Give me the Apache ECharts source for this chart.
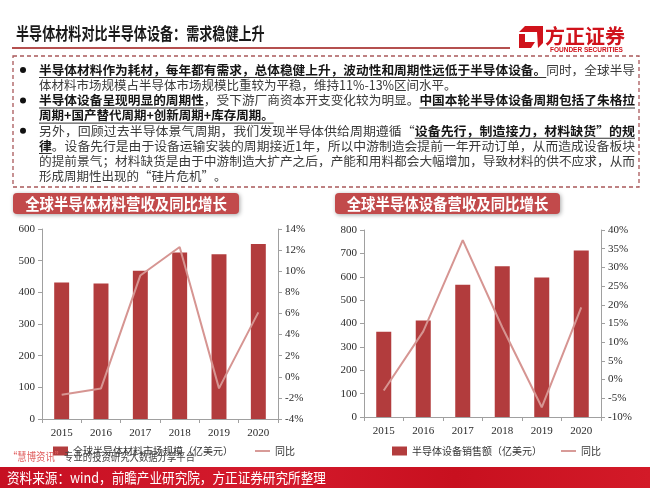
<!DOCTYPE html>
<html><head><meta charset="utf-8">
<script src="https://cdn.jsdelivr.net/npm/echarts@6/dist/echarts.min.js"></script>
<style>html,body{margin:0;padding:0;background:#fff}#c{width:650px;height:488px}</style>
</head><body><div id="c"></div>
<script>
// ---- data ----
const years = ['2015', '2016', '2017', '2018', '2019', '2020'];
const materialRevenue = [431, 428, 468, 526, 520, 553];      // 亿美元
const materialGrowth = [-1.7, -1.1, 9.6, 12.3, -1.1, 6.1];   // %
const equipmentRevenue = [365, 413, 566, 645, 597, 712];     // 亿美元
const equipmentGrowth = [-2.9, 12.9, 37.3, 14.0, -7.4, 19.3]; // %
const materialLeftAxis = [0, 600, 100];
const materialRightAxis = [-4, 14, 2];
const equipmentLeftAxis = [0, 800, 100];
const equipmentRightAxis = [-10, 40, 5];
const materialBarName = '全球半导体材料市场规模（亿美元）';
const equipmentBarName = '半导体设备销售额（亿美元）';
const growthName = '同比';
const pageTitle = '半导体材料对比半导体设备：需求稳健上升';
const chartTitles = ['全球半导体材料营收及同比增长', '全球半导体设备营收及同比增长'];
const sourceText = '资料来源：wind，前瞻产业研究院，方正证券研究所整理';
const bodyLines = [
  {bullet: true, justify: true, segs: [['半导体材料作为耗材，每年都有需求，总体稳健上升，波动性和周期性远低于半导体设备。', 'bu'], ['同时，全球半导', 'n']]},
  {segs: [['体材料市场规模占半导体市场规模比重较为平稳，维持11%-13%区间水平。', 'n']]},
  {bullet: true, justify: true, segs: [['半导体设备呈现明显的周期性', 'bu'], ['，受下游厂商资本开支变化较为明显。', 'n'], ['中国本轮半导体设备周期包括了朱格拉', 'bu']]},
  {segs: [['周期+国产替代周期+创新周期+库存周期。', 'bu']]},
  {bullet: true, justify: true, segs: [['另外，回顾过去半导体景气周期，我们发现半导体供给周期遵循“', 'n'], ['设备先行，制造接力，材料缺货”的规', 'bu']]},
  {justify: true, segs: [['律', 'bu'], ['。设备先行是由于设备运输安装的周期接近1年，所以中游制造会提前一年开动订单，从而造成设备板块', 'n']]},
  {justify: true, segs: [['的提前景气；材料缺货是由于中游制造大扩产之后，产能和用料都会大幅增加，导致材料的供不应求，从而', 'n']]},
  {segs: [['形成周期性出现的“硅片危机”。', 'n']]}
];

// ---- styles ----
const CJK = '"Noto Sans CJK SC", sans-serif';
const SERIF = '"Liberation Serif", "DejaVu Serif", serif';
const barColor = '#b23c3d';
const lineColor = '#d69592';
const axisColor = '#a0a0a0';
const lineIcon = 'path://M0,0L16,0L16,2L0,2Z';

const mctx = document.createElement('canvas').getContext('2d');
function tw(text, size, weight) {
  mctx.font = weight + ' ' + size + 'px ' + CJK;
  return mctx.measureText(text).width;
}

const graphic = [];
// title
graphic.push({type: 'text', x: 16, y: 34, scaleX: 0.77, style: {text: pageTitle, x: 0, y: 0, fontSize: 17, fontWeight: 'bold', fontFamily: CJK, fill: '#1a1a1a', textVerticalAlign: 'middle'}});
graphic.push({type: 'line', shape: {x1: 12, y1: 48, x2: 510, y2: 48}, style: {stroke: '#b5504f', lineWidth: 2}});
// logo
graphic.push({type: 'polygon', shape: {points: [[525, 26], [543, 26], [543, 43], [538, 48], [537, 32], [519, 32]]}, style: {fill: '#d0121b'}});
graphic.push({type: 'polygon', shape: {points: [[519, 34], [525, 34], [525, 42], [535, 42], [531, 48], [519, 48]]}, style: {fill: '#d0121b'}});
graphic.push({type: 'text', x: 545, y: 36, style: {text: '方正证券', fontSize: 20, fontWeight: 'bold', fontFamily: CJK, fill: '#d0121b', textVerticalAlign: 'middle'}});
graphic.push({type: 'text', x: 550, y: 50, style: {text: 'FOUNDER SECURITIES', fontSize: 6.5, fontWeight: 'bold', fontFamily: '"Liberation Sans", Arial, sans-serif', fill: '#d0121b', textVerticalAlign: 'middle'}});
// dashed box
graphic.push({type: 'rect', shape: {x: 13, y: 56, width: 626, height: 131}, style: {fill: 'none', stroke: '#a9585a', lineWidth: 1.3, lineDash: [4, 3]}});
// body text
const FS = 12.5, startX = 39, endX = 635;
bodyLines.forEach(function (ln, i) {
  const y = 70 + i * 15.2;
  if (ln.bullet) {
    graphic.push({type: 'circle', shape: {cx: 23, cy: y, r: 3}, style: {fill: '#111'}});
  }
  let lx = 0;
  const children = [];
  ln.segs.forEach(function (sg) {
    const bold = sg[1] === 'bu';
    const w = tw(sg[0], FS, bold ? 'bold' : 'normal');
    children.push({type: 'text', style: {text: sg[0], x: lx, y: 0, fontSize: FS, fontWeight: bold ? 'bold' : 'normal', fontFamily: CJK, fill: bold ? '#151515' : '#3a3a3a', textVerticalAlign: 'middle'}});
    if (bold) {
      children.push({type: 'line', shape: {x1: lx, y1: 7.5, x2: lx + w, y2: 7.5}, style: {stroke: '#333', lineWidth: 1}});
    }
    lx += w;
  });
  const s = ln.justify ? (endX - startX) / lx : 1;
  graphic.push({type: 'group', x: startX, y: y, scaleX: s, children: children});
});
// chart title pills
[[13, 226], [335, 225]].forEach(function (p, i) {
  graphic.push({type: 'rect', shape: {x: p[0], y: 193, width: p[1], height: 21, r: 4}, style: {fill: '#c24a4b', shadowBlur: 4, shadowColor: 'rgba(0,0,0,0.35)', shadowOffsetY: 1, shadowOffsetX: 1}});
  graphic.push({type: 'text', x: p[0] + p[1] / 2, y: 203.5, scaleX: 0.9, style: {text: chartTitles[i], x: 0, y: 0, fontSize: 16, fontWeight: 'bold', fontFamily: CJK, fill: '#fff', textAlign: 'center', textVerticalAlign: 'middle'}});
});
// watermark
graphic.push({type: 'text', x: 8, y: 457, scaleX: 0.85, z: 100, style: {
  text: '{r|“慧博资讯”}{g|专业的投资研究大数据分享平台}', x: 0, y: 0, textVerticalAlign: 'middle',
  rich: {r: {fontSize: 11, fontFamily: CJK, fill: '#e06060', color: '#e06060'}, g: {fontSize: 11, fontFamily: CJK, fill: '#444', color: '#444'}}
}});
// footer
graphic.push({type: 'rect', shape: {x: 0, y: 467, width: 650, height: 21}, style: {fill: {type: 'linear', x: 0, y: 0, x2: 1, y2: 0, colorStops: [{offset: 0, color: '#c60f22'}, {offset: 0.4, color: '#d41a2c'}, {offset: 0.7, color: '#c8101f'}, {offset: 1, color: '#d31a28'}]}}});
graphic.push({type: 'text', x: 7, y: 478, scaleX: 0.9, style: {text: sourceText, x: 0, y: 0, fontSize: 14, fontFamily: CJK, fill: '#fff', textVerticalAlign: 'middle'}});

function valueAxis(grid, range, pos, pct) {
  return {
    type: 'value', gridIndex: grid, position: pos, min: range[0], max: range[1], interval: range[2],
    axisLine: {show: true, lineStyle: {color: axisColor}},
    axisTick: {show: true, length: 4, lineStyle: {color: axisColor}},
    splitLine: {show: false},
    axisLabel: {margin: 7, fontSize: 11, fontFamily: SERIF, color: '#2a2a2a', formatter: pct ? '{value}%' : '{value}'}
  };
}
function catAxis(grid) {
  return {
    type: 'category', gridIndex: grid, data: years, boundaryGap: true,
    axisLine: {show: true, lineStyle: {color: axisColor}},
    axisTick: {show: true, length: 4, alignWithLabel: false, lineStyle: {color: axisColor}},
    axisLabel: {margin: 9, fontSize: 11, fontFamily: SERIF, color: '#2a2a2a'}
  };
}

const option = {
  animation: false,
  backgroundColor: '#fff',
  grid: [
    {left: 42, top: 229, width: 236, height: 190},
    {left: 364, top: 230, width: 237, height: 187}
  ],
  xAxis: [catAxis(0), catAxis(1)],
  yAxis: [
    valueAxis(0, materialLeftAxis, 'left', false),
    valueAxis(0, materialRightAxis, 'right', true),
    valueAxis(1, equipmentLeftAxis, 'left', false),
    valueAxis(1, equipmentRightAxis, 'right', true)
  ],
  legend: [
    {left: 48, top: 441, itemWidth: 15, itemHeight: 9, itemGap: 22, textStyle: {fontSize: 10, color: '#333', fontFamily: CJK},
      data: [{name: materialBarName, icon: 'rect'}, {name: growthName, icon: lineIcon}]},
    {left: 387, top: 441, itemWidth: 15, itemHeight: 9, itemGap: 19, textStyle: {fontSize: 10, color: '#333', fontFamily: CJK},
      data: [{name: equipmentBarName, icon: 'rect'}, {name: growthName, icon: lineIcon}]}
  ],
  series: [
    {name: materialBarName, type: 'bar', xAxisIndex: 0, yAxisIndex: 0, data: materialRevenue, barWidth: '38%', itemStyle: {color: barColor}},
    {name: growthName, type: 'line', xAxisIndex: 0, yAxisIndex: 1, data: materialGrowth, symbol: 'none', z: 5, lineStyle: {color: lineColor, width: 2}, itemStyle: {color: lineColor}},
    {name: equipmentBarName, type: 'bar', xAxisIndex: 1, yAxisIndex: 2, data: equipmentRevenue, barWidth: '38%', itemStyle: {color: barColor}},
    {name: growthName, type: 'line', xAxisIndex: 1, yAxisIndex: 3, data: equipmentGrowth, symbol: 'none', z: 5, lineStyle: {color: lineColor, width: 2}, itemStyle: {color: lineColor}}
  ],
  graphic: graphic
};
const chart = echarts.init(document.getElementById('c'));
chart.setOption(option);
</script>
</body></html>
